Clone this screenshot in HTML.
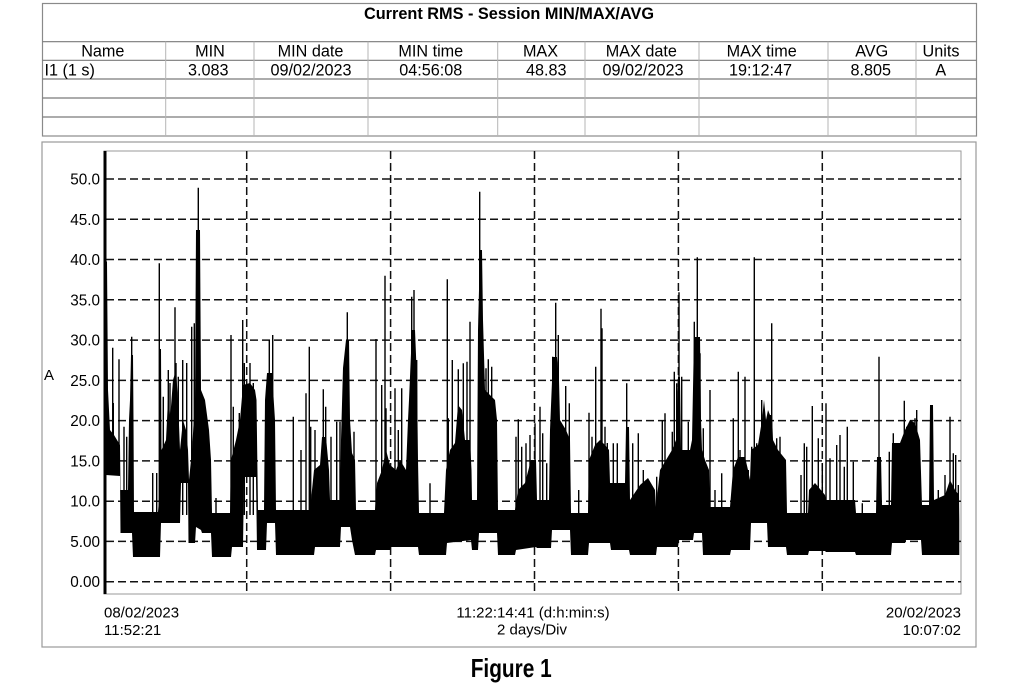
<!DOCTYPE html>
<html>
<head>
<meta charset="utf-8">
<style>
  html,body{margin:0;padding:0;background:#fff;}
  svg{display:block;}
  text{font-family:"Liberation Sans", Arial, sans-serif;fill:#000;}
</style>
</head>
<body>
<svg width="1024" height="687" viewBox="0 0 1024 687" xmlns="http://www.w3.org/2000/svg">
  <rect x="0" y="0" width="1024" height="687" fill="#fff"/>

  <!-- ===== TABLE ===== -->
  <rect x="42.5" y="3.5" width="934" height="132.5" fill="none" stroke="#8a8a8a" stroke-width="1.2"/>
  <g stroke="#7a7a7a" stroke-width="1.2">
    <line x1="42.5" y1="41.7" x2="976.5" y2="41.7"/>
    <line x1="42.5" y1="60.3" x2="976.5" y2="60.3"/>
    <line x1="42.5" y1="79" x2="976.5" y2="79"/>
    <line x1="42.5" y1="98" x2="976.5" y2="98"/>
    <line x1="42.5" y1="117" x2="976.5" y2="117"/>
  </g>
  <g stroke="#b5b5b5" stroke-width="1">
    <line x1="165.7" y1="41.7" x2="165.7" y2="136"/>
    <line x1="254" y1="41.7" x2="254" y2="136"/>
    <line x1="368" y1="41.7" x2="368" y2="136"/>
    <line x1="497.7" y1="41.7" x2="497.7" y2="136"/>
    <line x1="585" y1="41.7" x2="585" y2="136"/>
    <line x1="699" y1="41.7" x2="699" y2="136"/>
    <line x1="828" y1="41.7" x2="828" y2="136"/>
    <line x1="916" y1="41.7" x2="916" y2="136"/>
  </g>
  <text x="509" y="19" font-size="16.3" font-weight="bold" text-anchor="middle">Current RMS - Session MIN/MAX/AVG</text>
  <g font-size="16.2" text-anchor="middle">
    <text x="102.8" y="56.5">Name</text>
    <text x="210" y="56.5">MIN</text>
    <text x="310.5" y="56.5">MIN date</text>
    <text x="430.8" y="56.5">MIN time</text>
    <text x="540.5" y="56.5">MAX</text>
    <text x="641.3" y="56.5">MAX date</text>
    <text x="761.7" y="56.5">MAX time</text>
    <text x="871.7" y="56.5">AVG</text>
    <text x="941" y="56.5">Units</text>

    <text x="208.3" y="75.3">3.083</text>
    <text x="311" y="75.3">09/02/2023</text>
    <text x="430.7" y="75.3">04:56:08</text>
    <text x="546.3" y="75.3">48.83</text>
    <text x="643" y="75.3">09/02/2023</text>
    <text x="760.5" y="75.3">19:12:47</text>
    <text x="870.8" y="75.3">8.805</text>
    <text x="940.8" y="75.3">A</text>
  </g>
  <text x="44.5" y="75.3" font-size="16.2">I1 (1 s)</text>

  <!-- ===== CHART BOX ===== -->
  <rect x="42" y="142" width="934" height="505" fill="none" stroke="#9a9a9a" stroke-width="1.2"/>
  <rect x="104" y="151" width="857" height="443" fill="none" stroke="#9a9a9a" stroke-width="1"/>

  <!-- grid -->
  <g stroke="#111" stroke-width="1.5" stroke-dasharray="8 4" fill="none">
    <line x1="106" y1="179" x2="961" y2="179"/>
    <line x1="106" y1="219.3" x2="961" y2="219.3"/>
    <line x1="106" y1="259.5" x2="961" y2="259.5"/>
    <line x1="106" y1="299.8" x2="961" y2="299.8"/>
    <line x1="106" y1="340.1" x2="961" y2="340.1"/>
    <line x1="106" y1="380.4" x2="961" y2="380.4"/>
    <line x1="106" y1="420.6" x2="961" y2="420.6"/>
    <line x1="106" y1="460.9" x2="961" y2="460.9"/>
    <line x1="106" y1="501.2" x2="961" y2="501.2"/>
    <line x1="106" y1="541.4" x2="961" y2="541.4"/>
    <line x1="106" y1="581.7" x2="961" y2="581.7"/>
    <line x1="246.7" y1="151" x2="246.7" y2="594"/>
    <line x1="390.6" y1="151" x2="390.6" y2="594"/>
    <line x1="534.5" y1="151" x2="534.5" y2="594"/>
    <line x1="678.4" y1="151" x2="678.4" y2="594"/>
    <line x1="822.3" y1="151" x2="822.3" y2="594"/>
  </g>

  <!-- y tick labels -->
  <g font-size="15.3" text-anchor="end">
    <text x="100" y="184.5">50.0</text>
    <text x="100" y="224.8">45.0</text>
    <text x="100" y="265">40.0</text>
    <text x="100" y="305.3">35.0</text>
    <text x="100" y="345.6">30.0</text>
    <text x="100" y="385.9">25.0</text>
    <text x="100" y="426.1">20.0</text>
    <text x="100" y="466.4">15.0</text>
    <text x="100" y="506.7">10.0</text>
    <text x="100" y="546.9">5.00</text>
    <text x="100" y="587.2">0.00</text>
  </g>
  <text x="44" y="380" font-size="15">A</text>

  <!-- ===== DATA ===== -->
  <rect x="103.5" y="151" width="3" height="443" fill="#000"/>
  <path fill="#000" d="M106,260 L107,262 L108,390 L110,430 L114,435 L117,440 L120,445 L120.5,490 L128,490 L129,420 L130,400 L131,355 L133,355 L133.5,420 L134,512 L158,512 L159,500 L160,349 L161,349 L161.5,450 L166,440 L168,400 L170,420 L173,380 L176,370 L178,400 L180,450 L183,420 L186,430 L188,450 L189,480 L192,450 L195,400 L196,230 L200,230 L201,390 L205,400 L209,430 L211,460 L212,513 L230,513 L231,460 L236,440 L240,420 L243,385 L250,383 L255,390 L256.5,400 L258,510 L264,510 L265,400 L267,373 L272,373 L275,420 L276,510 L310,510 L314,470 L320,465 L322,437 L326,437 L329,470 L330,500 L340,500 L341,440 L343,368 L346,340 L349,340 L350,420 L352,453 L355,460 L356,510 L375,510 L377,483 L382,470 L386,450 L390,465 L396,470 L400,460 L406,470 L408,420 L409,400 L412,330 L415,330 L417,380 L418,460 L419,513 L444,513 L446,470 L450,450 L455,443 L458,405 L462,410 L465,440 L470,440 L471.5,470 L472,500 L477,500 L478,330 L480,250 L482,250 L483,320 L485,390 L490,395 L495,400 L497,420 L498,510 L515,510 L518,490 L525,483 L531,460 L536,460 L537,500 L549,500 L550,430 L553,357 L557,357 L559,380 L560,420 L566,430 L570,440 L571,513 L588,513 L589,460 L595,445 L600,440 L605,445 L609,450 L610,483 L625,483 L626,427 L629,427 L630,500 L640,485 L648,478 L655,490 L656,507 L660,470 L666,460 L672,450 L676,440 L678,377 L680,377 L681,450 L690,450 L692,440 L694,337 L700,337 L701,420 L702,450 L705,460 L709,470 L710,507 L730,507 L733,470 L738,457 L745,457 L748,470 L750,480 L751,450 L758,445 L762,420 L764,400 L766,420 L768,410 L770,415 L772,415 L773,440 L778,450 L786,460 L787,513 L808,513 L809,490 L815,483 L825,495 L826,500 L855,500 L856,513 L876,513 L877,457 L881,457 L882,505 L891,505 L892,443 L900,443 L905,430 L910,420 L915,423 L920,440 L922,505 L929,505 L930,405 L933,405 L934,500 L945,495 L950,480 L955,490 L959,495 L959.3,520
  L959.3,555 L922,555 L921,540 L906,540 L905,543 L892,543 L891,555 L856,555 L855,552 L826,552 L825,551 L809,551 L808,555 L787,555 L786,547 L768,547 L767,523 L751,523 L750,550 L731,550 L730,555 L703,555 L702,533 L694,533 L693,540 L679,540 L678,547 L657,547 L656,555 L630,555 L629,550 L611,550 L610,543 L589,543 L588,555 L571,555 L570,530 L552,530 L551,548 L537,548 L536,547 L516,550 L515,555 L498,555 L497,533 L479,533 L478,550 L472,550 L471,540 L447,543 L446,555 L419,555 L418,547 L391,547 L390,550 L376,550 L375,555 L355,555 L352,540 L350,527 L341,527 L340,547 L315,547 L314,555 L276,555 L275,523 L267,523 L266,550 L257,550 L256,477 L244,477 L243,547 L232,547 L231,557 L212,557 L211,533 L202,533 L201,530 L196,527 L195,543 L188.5,543 L188,483 L181,483 L180,523 L161,523 L160,557 L133,557 L132,533 L120.5,533 L120,476 L106,475 Z"/>

  <path fill="none" stroke="#000" stroke-width="1.4" d="M112.7 347.7V470M113.3 403V470M119 359.3V470M124 426.7V500M126.7 436.7V500M131.7 336.7V500M152.7 473V515M156.7 473V515M159.3 263.3V515M163.3 396.7V515M168.3 370V515M170 383V515M175 307.3V515M176 363V515M178.3 376.7V515M182.7 360V515M186.7 363V515M191.7 326.7V515M194.3 323.3V515M198.3 187.7V515M204.3 426.7V515M207.3 426.7V515M216 498V515M231 335V515M233.3 406.7V515M239.3 413V515M242.7 320V515M244.3 363V515M250 363V515M253.3 383V515M269.3 340V515M272.7 335V515M293.3 416.7V515M301 450V515M306 393.3V515M309.3 346.7V515M310.7 426.7V515
  M315 430V515M323.3 389.3V515M325.7 406.7V515M331 436.7V515M336.7 421.7V515M340 421.7V515M347.3 312.3V515M354 431.7V515M376 339V515M381.7 385V515M385 275.7V515M386 408.3V515M395 388.3V515M398.3 430V515M401.7 388.3V515M411.7 296.7V515M414 290V515M416.7 360V515M430 483.3V515M447.3 279.3V515M448.3 418.3V515M452.3 360V515M458.3 369.3V515M463.3 363.3V515M467 361.7V515M470 321.7V515M479.7 191.7V515M486 368.3V515M488.3 359.3V515M491.7 366.7V515M516 436.7V515M518.3 419.3V515M521.7 446.7V515M526 443.3V515M530 435V515
  M535 423.3V515M540 406.7V515M542.7 433.3V515M546.7 463.3V515M552.7 356.7V515M555.7 302.7V515M558.3 335V515M562.7 426.7V515M565.7 386V515M569.3 403.3V515M578.7 490V515M589 412.7V515M592 436.7V515M595.7 366.7V515M601 308.7V515M602 328.3V515M605 426.7V515M607.3 443V515M613.3 443.3V515M617.3 443.3V515M626.7 383.3V515M632.7 443.3V515M638.3 433.3V515M643.3 470V515M656.7 476.7V515M662.3 420V515M665 413.3V515M672.3 431.7V515M674.3 371.7V515M676.7 383.3V515M679 292.3V515M681.7 376.7V515M688.3 421.7V515M694.3 321.7V515M697.3 257.3V515M700 353.3V515M703.3 428.3V515M710 390V515M715 490V515M721.7 473.3V515M733.3 418.3V515M738.3 371.7V515M740 450V515M745 376.7V515M748.3 470V515
  M751.7 446.7V515M754.3 257.3V515M756.7 443.3V515M761.7 400V515M763.3 416.7V515M766.7 420V515M771.7 323.3V515M776.7 438.3V515M780 436.7V515M801 475V515M804.3 443.3V515M806.7 446.7V515M812.3 406V515M818.3 438.3V515M822.3 463.3V515M826 403.3V515M830 458.3V515M836.7 445V515M840 435V515M844.3 466.7V515M847.3 426.7V515M853.3 461.7V515M862.3 503.3V515M879 356.7V515M889.3 451.7V515M893.3 433.3V515M904.3 400.7V515M906.7 426.7V515M910.7 423.3V515M915 418.3V515M916.7 410V515M931 405V515M938.3 490V515M945 475V515M950 416.7V515M953.3 453.3V515M955.7 455V515M958.3 485V515"/>

  <!-- x labels -->
  <g font-size="15">
    <text x="104" y="617.5">08/02/2023</text>
    <text x="104" y="635">11:52:21</text>
    <text x="961" y="617.5" text-anchor="end">20/02/2023</text>
    <text x="961" y="635" text-anchor="end">10:07:02</text>
    <text x="533" y="617.5" text-anchor="middle">11:22:14:41 (d:h:min:s)</text>
    <text x="532" y="634.5" text-anchor="middle">2 days/Div</text>
  </g>

  <text x="470.7" y="677" font-size="26" font-weight="bold" textLength="81" lengthAdjust="spacingAndGlyphs">Figure 1</text>
</svg>
</body>
</html>
